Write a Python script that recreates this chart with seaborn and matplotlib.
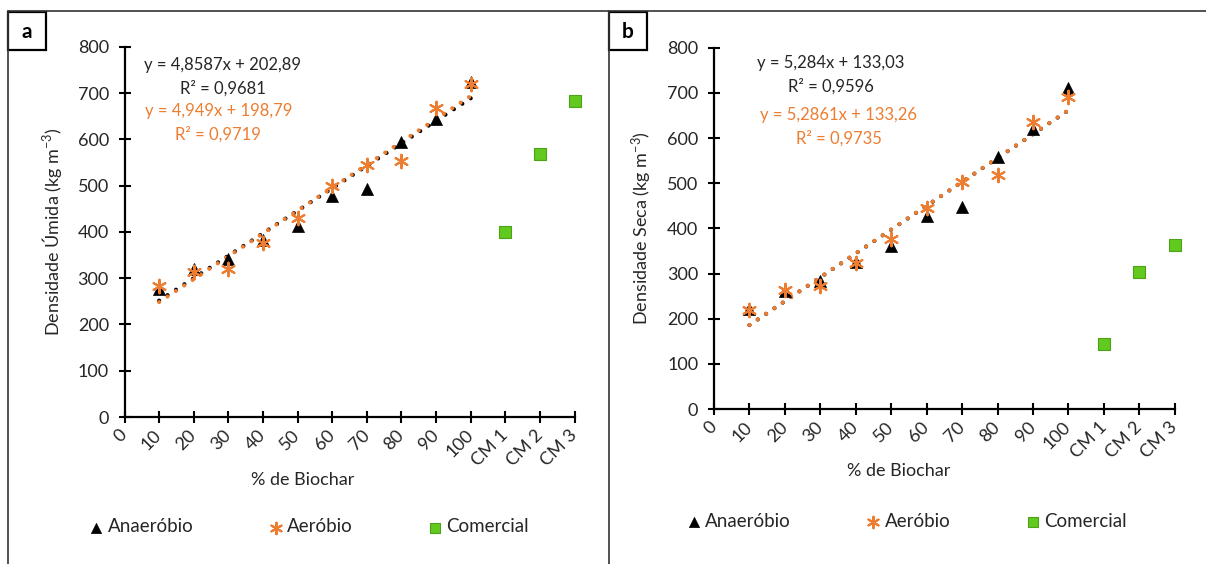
import matplotlib
matplotlib.use('Agg')
import matplotlib.pyplot as plt
import seaborn as sns
import numpy as np
from matplotlib.lines import Line2D
from matplotlib.patches import Rectangle

# ---------------- data ----------------
categories = ['0', '10', '20', '30', '40', '50', '60', '70', '80', '90', '100', 'CM 1', 'CM 2', 'CM 3']
biochar_pct = [10, 20, 30, 40, 50, 60, 70, 80, 90, 100]
comercial_cats = ['CM 1', 'CM 2', 'CM 3']

umida_anaerobio = [276, 320, 341, 382, 413, 478, 492, 595, 645, 724]
umida_aerobio = [284, 314, 319, 375, 429, 499, 544, 554, 668, 719]
umida_comercial = [400, 568, 683]

seca_anaerobio = [221, 262, 284, 326, 360, 428, 448, 559, 620, 712]
seca_aerobio = [219, 263, 272, 323, 376, 445, 503, 518, 636, 692]
seca_comercial = [145, 303, 363]

# trendline coefficients (slope, intercept) as printed on the chart
umida_fit_anaerobio = (4.8587, 202.89)
umida_fit_aerobio = (4.949, 198.79)
seca_fit_anaerobio = (5.284, 133.03)
seca_fit_aerobio = (5.2861, 133.26)

umida_eq_texts = ['y = 4,8587x + 202,89', 'R² = 0,9681', 'y = 4,949x + 198,79', 'R² = 0,9719']
seca_eq_texts = ['y = 5,284x + 133,03', 'R² = 0,9596', 'y = 5,2861x + 133,26', 'R² = 0,9735']

yticks = [0, 100, 200, 300, 400, 500, 600, 700, 800]
# --------------------------------------

sns.set_style('ticks')
plt.rcParams['font.family'] = ['Lato', 'DejaVu Sans']
plt.rcParams['mathtext.fontset'] = 'custom'
plt.rcParams['mathtext.rm'] = 'Lato'
plt.rcParams['mathtext.it'] = 'Lato:italic'

BLACK = '#000000'
ORANGE = '#ED7D31'
GREEN = '#62C91F'
GREEN_EDGE = '#4DA318'
TXT = '#262626'

W, H = 1206, 564
fig = plt.figure(figsize=(W / 100, H / 100), dpi=100)
fig.patch.set_facecolor('white')

cat_pos = {c: i for i, c in enumerate(categories)}
x_bio = [cat_pos[str(p)] for p in biochar_pct]
x_com = [cat_pos[c] for c in comercial_cats]


def panel(rect, anaer, aer, com, fit_an, fit_ae, texts, text_pos, ylabel,
          xlabel_pos, ylabel_x, legend_pos):
    ax = fig.add_axes(rect)
    ax.set_facecolor('white')
    # trendlines
    pct = np.array(biochar_pct, dtype=float)
    for (m, b), col in ((fit_an, BLACK), (fit_ae, ORANGE)):
        sns.lineplot(x=x_bio, y=m * pct + b, ax=ax, color=col, lw=3.0,
                     linestyle=(0, (0.01, 2.4)), dash_capstyle='round',
                     legend=False, zorder=2)
    sns.scatterplot(x=x_bio, y=anaer, ax=ax, marker='^', s=75, color=BLACK,
                    edgecolor=BLACK, linewidth=0.5, label='Anaeróbio', zorder=3, clip_on=False)
    sns.scatterplot(x=x_bio, y=aer, ax=ax, marker=(6, 2, 0), s=95, color=ORANGE,
                    linewidth=1.5, label='Aeróbio', zorder=4, clip_on=False)
    sns.scatterplot(x=x_com, y=com, ax=ax, marker='s', s=85, color=GREEN,
                    edgecolor=GREEN_EDGE, linewidth=0.8, label='Comercial', zorder=3, clip_on=False)

    ax.set_xlim(0, len(categories) - 1)
    ax.set_ylim(0, 800)
    ax.set_xticks(range(len(categories)))
    ax.set_xticklabels(categories)
    ax.set_yticks(yticks)
    for s in ('top', 'right'):
        ax.spines[s].set_visible(False)
    for s in ('left', 'bottom'):
        ax.spines[s].set_linewidth(1.6)
        ax.spines[s].set_color(BLACK)
    ax.tick_params(axis='both', direction='inout', length=8.5, width=1.5, colors=BLACK,
                   labelcolor=TXT, labelsize=13)
    ax.tick_params(axis='y', pad=7)
    ax.tick_params(axis='x', pad=7)
    for t in ax.get_xticklabels():
        t.set_rotation(45)
        t.set_ha('right')
        t.set_va('center')
        t.set_rotation_mode('anchor')

    ax.set_xlabel('% de Biochar', fontsize=13, color=TXT)
    ax.xaxis.set_label_coords(*xlabel_pos)
    ax.xaxis.label.set_va('center')
    ax.set_ylabel(ylabel, fontsize=13, color=TXT)
    ax.yaxis.set_label_coords(ylabel_x, 0.5)
    ax.yaxis.label.set_va('center')

    cols = [TXT, TXT, ORANGE, ORANGE]
    for txt, (tx, ty), c in zip(texts, text_pos, cols):
        ax.text(tx, ty, txt, transform=ax.transAxes, ha='center', va='center',
                fontsize=12, color=c)

    leg = ax.legend(loc='center', bbox_to_anchor=legend_pos, ncol=3, frameon=False,
                    fontsize=13.5, handlelength=0.8, handletextpad=0.2,
                    columnspacing=4.0, markerscale=0.85, borderaxespad=0)
    for t in leg.get_texts():
        t.set_color(TXT)
    return ax


def px_rect(x0, x1, y_bottom, y_top):
    return [x0 / W, (H - y_bottom) / H, (x1 - x0) / W, (y_bottom - y_top) / H]


panel(px_rect(124.5, 574.6, 417, 46.8), umida_anaerobio, umida_aerobio, umida_comercial,
      umida_fit_anaerobio, umida_fit_aerobio, umida_eq_texts,
      [(0.2188, 0.9495), (0.2188, 0.8887), (0.2088, 0.8266), (0.2077, 0.7645)],
      'Densidade Úmida (kg m$^{-3}$)', (0.3956, -0.170), -0.16, (0.4100, -0.297))

panel(px_rect(714, 1174.7, 409, 47.8), seca_anaerobio, seca_aerobio, seca_comercial,
      seca_fit_anaerobio, seca_fit_aerobio, seca_eq_texts,
      [(0.254, 0.958), (0.254, 0.8934), (0.2692, 0.814), (0.2702, 0.7489)],
      'Densidade Seca (kg m$^{-3}$)', (0.401, -0.172), -0.157, (0.4180, -0.312))

# frame lines and panel label boxes (figure pixel coordinates)
def fx(x):
    return x / W


def fy(y):
    return (H - y) / H


for xs, ys in (([8, W], [11, 11]), ([8, 8], [11, H]), ([609, 609], [11, H])):
    fig.add_artist(Line2D([fx(v) for v in xs], [fy(v) for v in ys],
                          transform=fig.transFigure, color='#333333', lw=1.2))

for (x0, y0, x1, y1, lab) in ((8, 12, 46, 50, 'a'), (609, 12, 647, 50, 'b')):
    fig.add_artist(Rectangle((fx(x0), fy(y1)), fx(x1) - fx(x0), fy(y0) - fy(y1),
                             transform=fig.transFigure, fill=False, edgecolor=BLACK, lw=1.6))
    fig.text(fx((x0 + x1) / 2), fy((y0 + y1) / 2 + 1), lab, ha='center', va='center',
             fontsize=15, fontweight='bold', color=BLACK)

fig.savefig('out.png', dpi=100, facecolor='white')
